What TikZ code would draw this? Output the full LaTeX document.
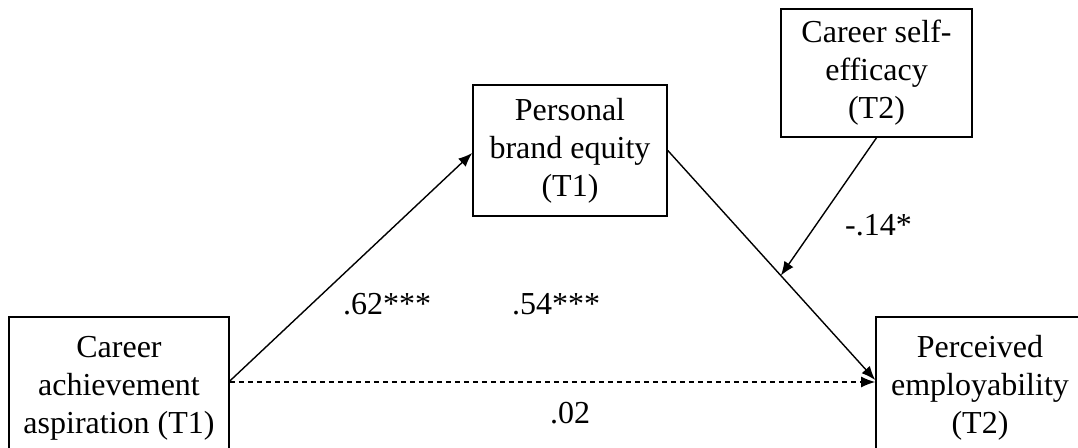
\documentclass[tikz,border=0pt]{standalone}
\usepackage{fontspec}
\setmainfont{Liberation Serif}
\usetikzlibrary{arrows.meta,calc}
\begin{document}
\begin{tikzpicture}[x=1pt,y=-1pt,
  box/.style={draw,line width=1.6pt,align=center,inner sep=0pt,
    font=\fontsize{32}{38}\selectfont},
  conn/.style={line width=1.4pt,-{Latex[length=14pt,width=11pt]}},
  lbl/.style={anchor=base west,inner sep=0pt,font=\fontsize{32}{38}\selectfont}]
\useasboundingbox (0,0) rectangle (1078,447);
\clip (0,0) rectangle (1078,447);
\node[box,minimum width=220pt,minimum height=142pt] (A) at (119,388)
  {Career\\achievement\\aspiration (T1)};
\node[box,minimum width=194pt,minimum height=131pt] (P) at (570,150.5)
  {Personal\\brand equity\\(T1)};
\node[box,minimum width=191pt,minimum height=128pt] (S) at (876.5,73)
  {Career self-\\efficacy\\(T2)};
\node[box,minimum width=208pt,minimum height=142pt] (E) at (980,388)
  {Perceived\\employability\\(T2)};
\draw[conn] ([yshift=7pt]A.east) -- ([yshift=-2.5pt]P.west);
\draw[conn,dash pattern=on 5pt off 4pt] ([yshift=6pt]A.east) -- ([yshift=6pt]E.west);
\draw[conn] (P.east) -- coordinate[pos=0.545] (m) ([yshift=8pt]E.west);
\draw[conn] (S.south) -- (m);
\node[lbl] (l1) at (343,314) {.62***};
\node[lbl] (l2) at (512,314) {.54***};
\node[lbl] (l3) at (845,235) {-.14*};
\node[lbl] (l4) at (550,423) {.02};
\end{tikzpicture}
\end{document}
